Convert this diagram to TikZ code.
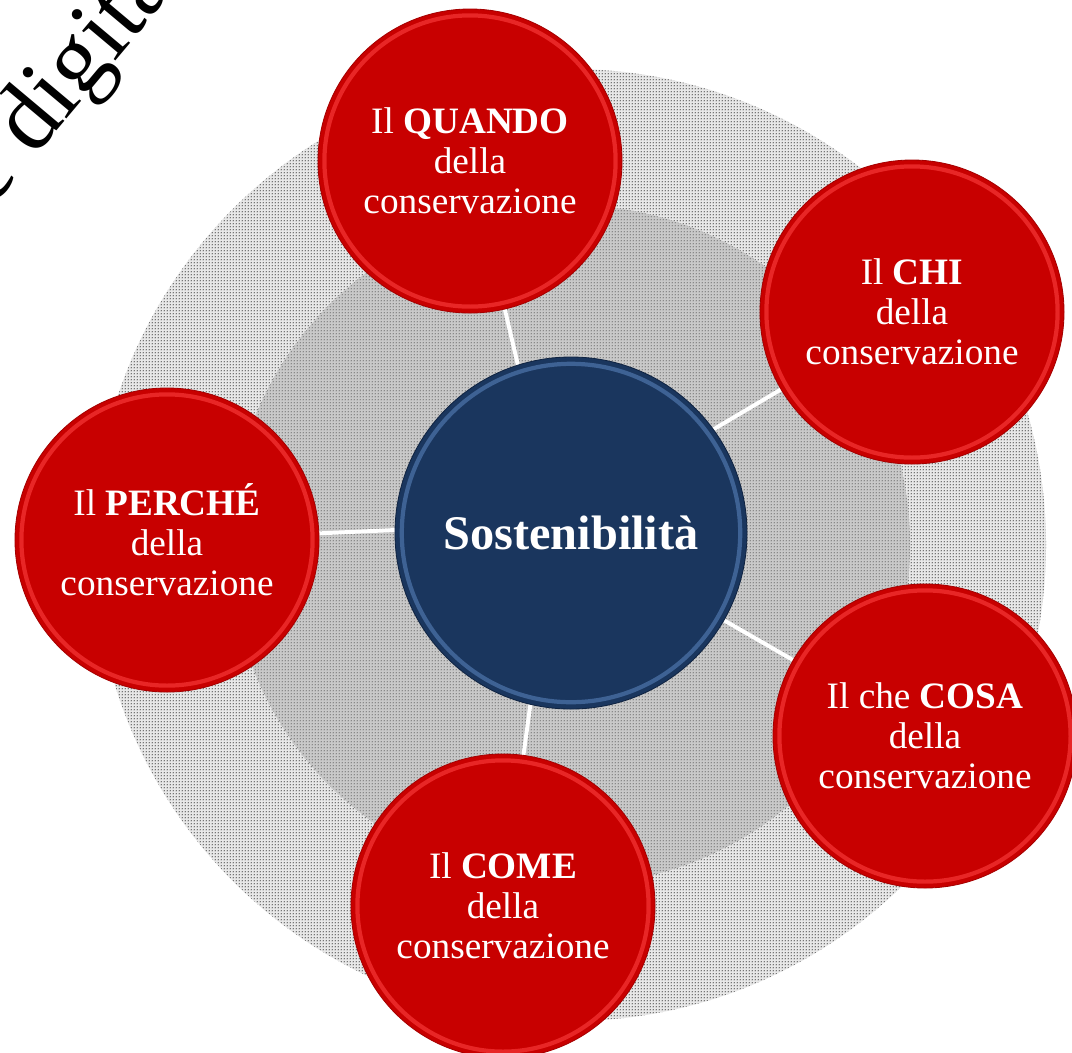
\documentclass[tikz,border=0pt]{standalone}
\usepackage{fontspec}
\setmainfont{Liberation Serif}
\usetikzlibrary{positioning,patterns.meta}

\definecolor{topicred}{RGB}{200,0,0}
\definecolor{topicrim}{RGB}{232,38,38}
\definecolor{topicedge}{RGB}{165,0,0}
\definecolor{hubblue}{RGB}{26,54,94}
\definecolor{hubrim}{RGB}{62,98,148}
\definecolor{hubedge}{RGB}{16,36,66}

\tikzdeclarepattern{
  name=halftone, type=uncolored,
  bounding box={(-1.1pt,-1.1pt) and (1.1pt,1.1pt)},
  tile size={(2.2pt,2.2pt)},
  code={\fill (0pt,0pt) circle (0.6pt);}
}

\pgfdeclarelayer{back}
\pgfdeclarelayer{links}
\pgfsetlayers{back,links,main}

\begin{document}
\begin{tikzpicture}[x=0.25mm,y=-0.25mm,
  topic/.style={circle,inner sep=0pt,minimum size=76mm,fill=topicred,
    draw=topicedge,line width=0.6pt,text=white,align=center,
    font=\fontsize{26.5}{28.5}\selectfont,
    path picture={\draw[topicrim,line width=3pt]
      (path picture bounding box.center) circle (36.4mm);}},
  hub/.style={circle,inner sep=0pt,minimum size=88mm,fill=hubblue,
    draw=hubedge,line width=0.6pt,text=white,
    font=\bfseries\fontsize{34.4}{36}\selectfont,
    path picture={\draw[hubrim,line width=3pt]
      (path picture bounding box.center) circle (42.3mm);}},
  link/.style={white,line width=2.8pt}]

\useasboundingbox (0,0) rectangle (1072,1052);
\clip (0,0) rectangle (1072,1052);

% backdrop
\begin{pgfonlayer}{back}
\fill[white] (0,0) rectangle (1072,1052);
\fill[gray!18] (570,545) circle (119mm);
\fill[pattern=halftone,pattern color=black!70] (570,545) circle (119mm);
\fill[gray!42] (570,545) circle (85mm);
\fill[pattern=halftone,pattern color=black!55] (570,545) circle (85mm);
\node[rotate=50,anchor=base west,inner sep=0pt,font=\fontsize{69}{71}\selectfont]
  (mark) at (-9,209) {e digitale};
\end{pgfonlayer}

\node[hub] (sost) at (571,533) {Sostenibilità};

\node[topic] (quando) at (470,161) {Il \textbf{QUANDO}\\della\\conservazione};
\node[topic] (chi)    at (912,312) {Il \textbf{CHI}\\della\\conservazione};
\node[topic] (cosa)   at (925,736) {Il che \textbf{COSA}\\della\\conservazione};
\node[topic] (come)   at (503,906) {Il \textbf{COME}\\della\\conservazione};
\node[topic] (perche) at (167,540) {Il \textbf{PERCHÉ}\\della\\conservazione};

%%%%%%%%%%%%%%%%%%%%%%%%%%%%%%%%%%%%%%%%%%%%%%%%%%%%%%%%%%%%%%%%

\coordinate (centre) at (555,523);
\begin{pgfonlayer}{links}
\foreach \t in {quando,chi,cosa,come,perche} {
	\draw [link] (centre) -- (\t.center);
}
\end{pgfonlayer}

\end{tikzpicture}
\end{document}
